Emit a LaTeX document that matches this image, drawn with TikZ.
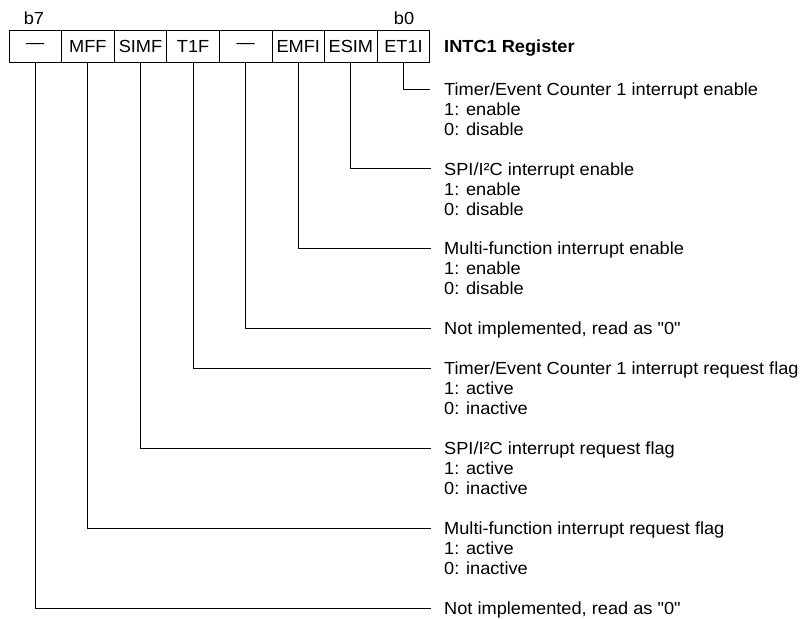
\documentclass[tikz,border=0pt]{standalone}
\usepackage{fontspec}
\setmainfont[FakeStretch=1.04,Ligatures=TeXOff]{Liberation Sans}
\usetikzlibrary{calc}
\begin{document}
\begin{tikzpicture}[x=1pt,y=-1pt,
  every node/.style={font=\fontsize{17.5}{19.96}\selectfont, inner sep=0pt},
  cell/.style={draw, line width=1pt, minimum width=52.6pt, minimum height=32pt, anchor=center},
  desc/.style={align=left, anchor=base west},
  leader/.style={line width=0.9pt},
]
\useasboundingbox (0,0) rectangle (807,619);
% bit labels
\node (b7) at (34,18) {b7};
\node (b0) at (404,18) {b0};
% register cells
\node[cell] (c7) at (35.3,46) {—};
\node[cell] (c6) at (87.9,46) {MFF};
\node[cell] (c5) at (140.5,46) {SIMF};
\node[cell] (c4) at (193.1,46) {T1F};
\node[cell] (c3) at (245.7,46) {—};
\node[cell] (c2) at (298.3,46) {EMFI};
\node[cell] (c1) at (350.9,46) {ESIM};
\node[cell] (c0) at (403.5,46) {ET1I};
\node[anchor=base west, font=\fontsize{17.5}{20}\selectfont\bfseries] (reg) at (444,52.3) {INTC1 Register};
% descriptions (three-line nodes: base = last line's baseline)
\node[desc] (t1) at (444,135.2) {Timer/Event Counter 1 interrupt enable\\1: enable\\0: disable};
\node[desc] (t2) at (444,215.0) {SPI/I²C interrupt enable\\1: enable\\0: disable};
\node[desc] (t3) at (444,294.9) {Multi-function interrupt enable\\1: enable\\0: disable};
\node[desc] (t4) at (444,334.8) {Not implemented, read as "0"};
\node[desc] (t5) at (444,414.6) {Timer/Event Counter 1 interrupt request flag\\1: active\\0: inactive};
\node[desc] (t6) at (444,494.5) {SPI/I²C interrupt request flag\\1: active\\0: inactive};
\node[desc] (t7) at (444,574.3) {Multi-function interrupt request flag\\1: active\\0: inactive};
\node[desc] (t8) at (444,614.3) {Not implemented, read as "0"};
% leaders
\draw[leader] (c0.south) |- ($(t1.base west)+(-14,-46.2)$);
\draw[leader] (c1.south) |- ($(t2.base west)+(-13,-46.2)$);
\draw[leader] (c2.south) |- ($(t3.base west)+(-13,-46.2)$);
\draw[leader] (c3.south) |- ($(t4.base west)+(-13,-6.3)$);
\draw[leader] (c4.south) |- ($(t5.base west)+(-13,-46.2)$);
\draw[leader] (c5.south) |- ($(t6.base west)+(-13,-46.2)$);
\draw[leader] (c6.south) |- ($(t7.base west)+(-13,-46.2)$);
\draw[leader] (c7.south) |- ($(t8.base west)+(-13,-6.3)$);
\end{tikzpicture}
\end{document}
